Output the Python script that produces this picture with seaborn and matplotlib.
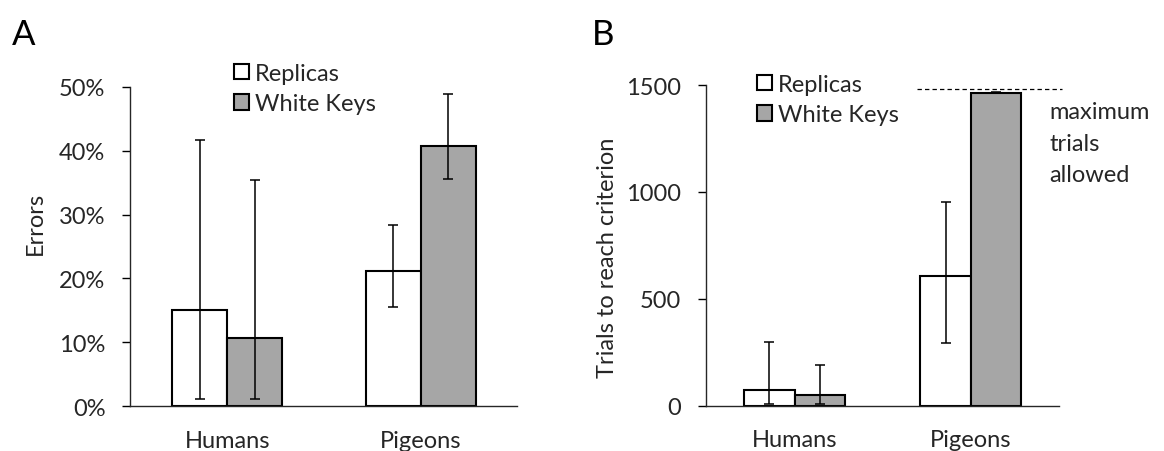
import matplotlib
matplotlib.use("Agg")
import matplotlib.pyplot as plt
from matplotlib.ticker import PercentFormatter
import seaborn as sns
import pandas as pd

sns.set_style("ticks")
plt.rcParams["font.family"] = ["Lato", "DejaVu Sans"]

# ---- data ----
groups = ["Humans", "Pigeons"]
conditions = ["Replicas", "White Keys"]

# Panel A: error rate (%) with lower/upper error-bar ends
errors_replicas = [15.0, 21.2]
errors_white = [10.7, 40.7]
errors_replicas_lo = [1.1, 15.5]
errors_replicas_hi = [41.7, 28.4]
errors_white_lo = [1.1, 35.5]
errors_white_hi = [35.4, 48.9]

# Panel B: trials to reach criterion with lower/upper error-bar ends
trials_replicas = [73, 608]
trials_white = [50, 1461]
trials_replicas_lo = [8, 293]
trials_replicas_hi = [296, 951]
trials_white_lo = [8, 1461]
trials_white_hi = [192, 1465]
max_trials = 1480

TEXT = "#262626"
GRAY = "#a6a6a6"
FS = 17
palette = {"Replicas": "white", "White Keys": GRAY}
W, H = 1164, 452


def frame(a, b):
    return pd.DataFrame({
        "group": groups * 2,
        "condition": [conditions[0]] * 2 + [conditions[1]] * 2,
        "value": list(a) + list(b),
    })


def draw_panel(ax, df, lows, highs):
    sns.barplot(data=df, x="group", y="value", hue="condition",
                hue_order=conditions, order=groups, palette=palette,
                width=0.57, errorbar=None, edgecolor="black",
                linewidth=1.5, ax=ax, zorder=2)
    for cont, lo, hi in zip(ax.containers, lows, highs):
        for patch, l, h in zip(cont.patches, lo, hi):
            xc = patch.get_x() + patch.get_width() / 2
            y = patch.get_height()
            ax.errorbar([xc], [y], yerr=[[y - l], [h - y]], fmt="none",
                        ecolor="black", elinewidth=1.1, capsize=3.8,
                        capthick=1.1, zorder=3)
    ax.set_xlim(-0.5, 1.5)
    sns.despine(ax=ax)
    ax.spines["left"].set_linewidth(1.0)
    ax.spines["bottom"].set_linewidth(1.0)
    ax.tick_params(axis="y", length=6, width=1.0, color="black",
                   labelsize=FS, labelcolor=TEXT, pad=12)
    ax.tick_params(axis="x", length=0, labelsize=FS, labelcolor=TEXT, pad=17)
    ax.set_xlabel("")
    leg = ax.get_legend()
    if leg is not None:
        leg.remove()


fig = plt.figure(figsize=(W / 100, H / 100), dpi=100)
axA = fig.add_axes([130.4 / W, (H - 407.3) / H, 387 / W, 319.6 / H])
axB = fig.add_axes([706.4 / W, (H - 406.7) / H, 352.4 / W, 320.7 / H])

# ---- Panel A ----
draw_panel(axA, frame(errors_replicas, errors_white),
           [errors_replicas_lo, errors_white_lo],
           [errors_replicas_hi, errors_white_hi])
axA.set_ylim(0, 50)
axA.set_yticks([0, 10, 20, 30, 40, 50])
axA.yaxis.set_major_formatter(PercentFormatter(100, decimals=0))
axA.set_ylabel("")
fig.text(35 / W, 1 - 223 / H, "Errors", rotation=90, fontsize=FS,
         color=TEXT, ha="center", va="center")

# ---- Panel B ----
draw_panel(axB, frame(trials_replicas, trials_white),
           [trials_replicas_lo, trials_white_lo],
           [trials_replicas_hi, trials_white_hi])
axB.set_ylim(0, 1500)
axB.set_yticks([0, 500, 1000, 1500])
axB.set_ylabel("")
fig.text(608 / W, 1 - 258 / H, "Trials to reach criterion", rotation=90,
         fontsize=FS, color=TEXT, ha="center", va="center")
axB.plot([0.693, 1.517], [max_trials, max_trials], color="black",
         lw=0.9, ls=(0, (3.5, 2.5)), clip_on=False, zorder=4)
axB.text(1.447, 1228, "maximum\ntrials\nallowed", fontsize=FS, color=TEXT,
         va="center", ha="left", linespacing=1.6)

# ---- legends ----
for anchor in [(234 / W, 1 - 64 / H), (757 / W, 1 - 75 / H)]:
    handles = [plt.Rectangle((0, 0), 1, 1, facecolor=palette[c],
                             edgecolor="black", linewidth=1.5)
               for c in conditions]
    fig.legend(handles, conditions, loc="upper left",
               bbox_to_anchor=anchor, bbox_transform=fig.transFigure,
               frameon=False, fontsize=FS, handlelength=0.62,
               handleheight=0.62, handletextpad=0.25, labelspacing=0.4,
               borderpad=0, borderaxespad=0, labelcolor=TEXT)

# ---- panel letters ----
fig.text(24 / W, 1 - 35 / H, "A", fontsize=25, color="black",
         ha="center", va="center")
fig.text(603 / W, 1 - 35 / H, "B", fontsize=25, color="black",
         ha="center", va="center")

fig.savefig("out.png", dpi=100, facecolor="white")
